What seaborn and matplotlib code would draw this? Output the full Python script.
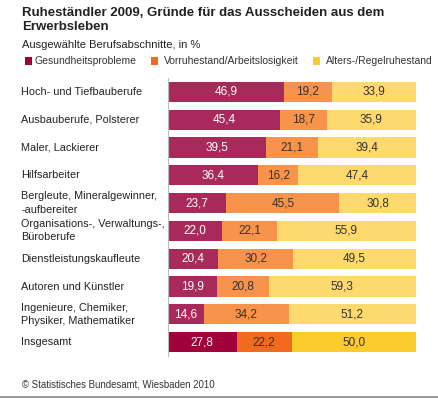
import matplotlib
matplotlib.use("Agg")
import matplotlib.pyplot as plt
import seaborn as sns
import pandas as pd
from matplotlib.patches import Rectangle
from matplotlib.lines import Line2D

categories = [
    "Hoch- und Tiefbauberufe",
    "Ausbauberufe, Polsterer",
    "Maler, Lackierer",
    "Hilfsarbeiter",
    "Bergleute, Mineralgewinner,\n-aufbereiter",
    "Organisations-, Verwaltungs-,\nBüroberufe",
    "Dienstleistungskaufleute",
    "Autoren und Künstler",
    "Ingenieure, Chemiker,\nPhysiker, Mathematiker",
    "Insgesamt",
]
gesundheit = [46.9, 45.4, 39.5, 36.4, 23.7, 22.0, 20.4, 19.9, 14.6, 27.8]
vorruhestand = [19.2, 18.7, 21.1, 16.2, 45.5, 22.1, 30.2, 20.8, 34.2, 22.2]
alters = [33.9, 35.9, 39.4, 47.4, 30.8, 55.9, 49.5, 59.3, 51.2, 50.0]
series_names = ["Gesundheitsprobleme", "Vorruhestand/Arbeitslosigkeit", "Alters-/Regelruhestand"]

# light colours for the groups, strong ones for "Insgesamt"
light = ["#A82A5A", "#F7934B", "#FDD96E"]
strong = ["#A1003A", "#F26A1E", "#FCCB2E"]

df = pd.DataFrame({"cat": categories, "g": gesundheit, "v": vorruhestand, "a": alters})
df["gv"] = df["g"] + df["v"]
df["gva"] = df["gv"] + df["a"]

sns.set_theme(style="white")
plt.rcParams["font.family"] = ["Liberation Sans", "DejaVu Sans"]

fig = plt.figure(figsize=(4.39, 4.00), dpi=100)
ax = fig.add_axes([0.382, 0.11, 0.565, 0.695])

n = len(categories)
for col, k in [("gva", 2), ("gv", 1), ("g", 0)]:
    pal = [light[k]] * (n - 1) + [strong[k]]
    sns.barplot(data=df, y="cat", x=col, hue="cat", palette=pal, legend=False,
                orient="h", width=0.72, saturation=1, ax=ax, linewidth=0)

# value labels
for i in range(n):
    starts = [0, df["g"][i], df["gv"][i]]
    vals = [df["g"][i], df["v"][i], df["a"][i]]
    for k in range(3):
        txt = f"{vals[k]:.1f}".replace(".", ",")
        color = "white" if k == 0 else "#333333"
        ax.text(starts[k] + vals[k] / 2, i, txt, ha="center", va="center",
                fontsize=8.5, color=color)

ax.set_xlim(0, 100)
ax.set_ylim(n - 0.5, -0.5)
ax.set_xlabel("")
ax.set_ylabel("")
ax.set_xticks([])
ax.set_yticks(range(n))
ax.set_yticklabels([])
ax.tick_params(left=False)
for s in ["top", "right", "bottom"]:
    ax.spines[s].set_visible(False)
ax.spines["left"].set_color("#BBBBBB")
ax.spines["left"].set_linewidth(0.8)

# category labels, left aligned
for i, c in enumerate(categories):
    ax.text(-0.591, i, c, transform=ax.get_yaxis_transform(), ha="left", va="center",
            fontsize=7.8, color="#222222", linespacing=1.4)

# titles
fig.text(0.05, 0.982, "Ruheständler 2009, Gründe für das Ausscheiden aus dem\nErwerbsleben",
         ha="left", va="top", fontsize=9.5, fontweight="bold", color="#222222", linespacing=1.2)
fig.text(0.05, 0.888, "Ausgewählte Berufsabschnitte, in %", ha="left", va="center",
         fontsize=8, color="#222222")

# legend
leg_x = [0.057, 0.344, 0.713]
txt_off = [0.021, 0.03, 0.03]
for k in range(3):
    fig.patches.append(Rectangle((leg_x[k], 0.838), 0.016, 0.019, transform=fig.transFigure,
                                 facecolor=strong[k], edgecolor="none"))
    fig.text(leg_x[k] + txt_off[k], 0.847, series_names[k], ha="left", va="center",
             fontsize=7.5, color="#333333")

fig.text(0.05, 0.038, "© Statistisches Bundesamt, Wiesbaden 2010", ha="left", va="center",
         fontsize=6.9, color="#333333")
fig.lines.append(Line2D([0, 1], [0.007, 0.007], transform=fig.transFigure,
                        color="#888888", linewidth=1.2))

fig.savefig("out.png", dpi=100)
